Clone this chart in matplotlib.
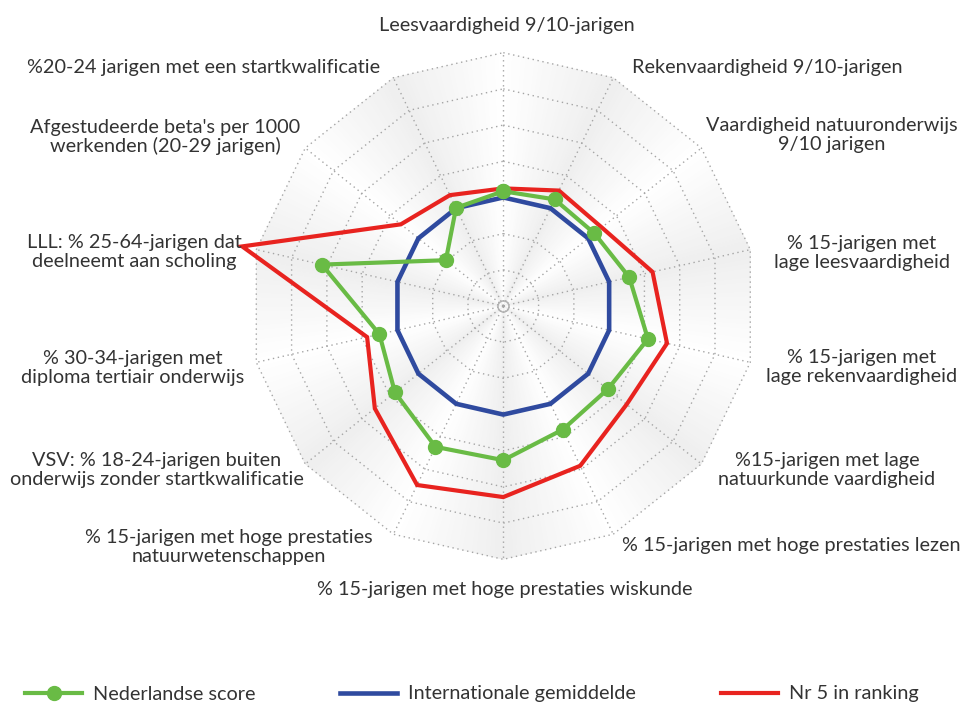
import matplotlib
matplotlib.use("Agg")
import matplotlib.pyplot as plt
import numpy as np

# data (in ring units, 7 rings)
labels = [
    "Leesvaardigheid 9/10-jarigen",
    "Rekenvaardigheid 9/10-jarigen",
    "Vaardigheid natuuronderwijs\n9/10 jarigen",
    "% 15-jarigen met\nlage leesvaardigheid",
    "% 15-jarigen met\nlage rekenvaardigheid",
    "%15-jarigen met lage\nnatuurkunde vaardigheid",
    "% 15-jarigen met hoge prestaties lezen",
    "% 15-jarigen met hoge prestaties wiskunde",
    "% 15-jarigen met hoge prestaties\nnatuurwetenschappen",
    "VSV: % 18-24-jarigen buiten\nonderwijs zonder startkwalificatie",
    "% 30-34-jarigen met\ndiploma tertiair onderwijs",
    "LLL: % 25-64-jarigen dat\ndeelneemt aan scholing",
    "Afgestudeerde beta's per 1000\nwerkenden (20-29 jarigen)",
    "%20-24 jarigen met een startkwalificatie",
]
nl_score = [3.17, 3.27, 3.22, 3.57, 4.1, 3.69, 3.79, 4.26, 4.32, 3.83, 3.51, 5.14, 2.03, 3.01]
intl_avg = [3, 3, 3, 3, 3, 3, 3, 3, 3, 3, 3, 3, 3, 3]
nr5 = [3.25, 3.54, 3.48, 4.23, 4.64, 4.36, 4.9, 5.28, 5.49, 4.54, 3.86, 7.4, 3.62, 3.4]
n_rings = 7

# label centres in pixels (x, y from top)
label_xy = [(507, 26), (767, 67), (832, 135), (862, 253), (862, 367), (827, 470),
            (791, 546), (505, 589), (229, 547), (157, 470), (133, 368), (134, 252),
            (165, 137), (204, 68)]

W, H = 961, 702
fig = plt.figure(figsize=(W / 100, H / 100), dpi=100)
plt.rcParams['font.family'] = ['Lato', 'DejaVu Sans']

cx, cy, unit = 503.3, 306, 36.19
rmax = 7.6
rad = rmax * unit
ax = fig.add_axes([(cx - rad) / W, (H - cy - rad) / H, 2 * rad / W, 2 * rad / H],
                  projection='polar')
ax.set_theta_zero_location('N')
ax.set_theta_direction(-1)
ax.set_ylim(0, rmax)
ax.set_xticks([])
ax.set_yticks([])
ax.grid(False)
ax.spines['polar'].set_visible(False)
ax.patch.set_visible(False)

n = len(labels)
angles = np.arange(n) * 2 * np.pi / n

# shaded sectors (soft gradient from white to light grey along the outer edge)
white = np.array([1.0, 1.0, 1.0])
grey = np.array([0.935, 0.935, 0.935])
steps = 24
for i in range(n):
    a0, a1 = angles[i], angles[(i + 1) % n]
    p0 = np.array([np.sin(a0), np.cos(a0)]) * n_rings
    p1 = np.array([np.sin(a1), np.cos(a1)]) * n_rings
    for j in range(steps):
        t0, t1 = j / steps, (j + 1) / steps
        q0 = p0 + (p1 - p0) * t0
        q1 = p0 + (p1 - p0) * t1
        th = [0, np.arctan2(q0[0], q0[1]), np.arctan2(q1[0], q1[1])]
        rr = [0, np.hypot(*q0), np.hypot(*q1)]
        tm = (t0 + t1) / 2
        f = tm if i % 2 == 0 else 1 - tm
        col = white + (grey - white) * f
        ax.fill(th, rr, color=col, lw=0.3, ec=col, zorder=0)

# dotted polygon grid and spokes
grid_kw = dict(color='#a5a5a5', lw=1.0, ls=(0, (1, 2.6)), zorder=1)
closed = np.append(angles, angles[0])
for k in range(1, n_rings + 1):
    ax.plot(closed, [k] * (n + 1), **grid_kw)
for a in angles:
    ax.plot([a, a], [0, n_rings], **grid_kw)
ax.plot([0], [0], marker='o', ms=8, mfc='none', mec='#b0b0b0', mew=1, zorder=2)

def close(v):
    return list(v) + [v[0]]

ax.plot(closed, close(intl_avg), color='#2f4a9f', lw=3.3, zorder=3,
        solid_joinstyle='miter', label='Internationale gemiddelde', clip_on=False)
ax.plot(closed, close(nr5), color='#e8231f', lw=3.0, zorder=4,
        solid_joinstyle='miter', label='Nr 5 in ranking', clip_on=False)
ax.plot(closed, close(nl_score), color='#69bb45', lw=3.0, marker='o', ms=10,
        zorder=5, label='Nederlandse score', clip_on=False)

for lab, (x, y) in zip(labels, label_xy):
    fig.text(x / W, 1 - y / H, lab, ha='center', va='center', fontsize=14.3,
             color='#333333', linespacing=1.08)

handles, names = ax.get_legend_handles_labels()
order = [2, 0, 1]
fig.legend([handles[i] for i in order], [names[i] for i in order],
           loc='center left', bbox_to_anchor=(25 / W, 1 - 694 / H), ncol=3,
           frameon=False, fontsize=14.3, handlelength=2.87, handletextpad=0.55,
           columnspacing=4.27, borderpad=0, borderaxespad=0, labelcolor='#333333')

fig.savefig('out.png', dpi=100)
